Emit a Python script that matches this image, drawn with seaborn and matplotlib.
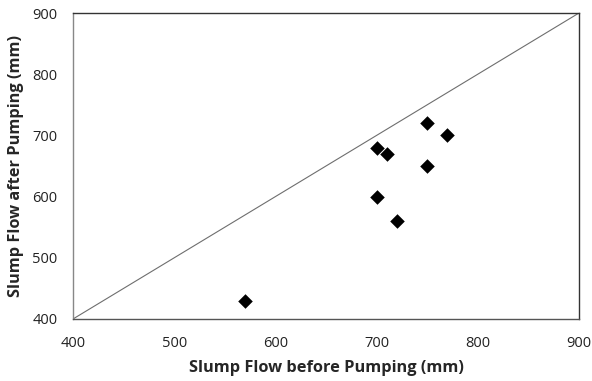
import matplotlib
matplotlib.use("Agg")
import matplotlib.pyplot as plt
import seaborn as sns
import pandas as pd

before = [570, 700, 710, 700, 720, 750, 750, 770]
after = [430, 680, 670, 600, 560, 720, 650, 700]
ticks = [400, 500, 600, 700, 800, 900]
line_ref = [400, 900]

sns.set_theme(style="white")
plt.rcParams['font.family'] = ['Open Sans', 'DejaVu Sans']

df = pd.DataFrame({"before": before, "after": after})

fig = plt.figure(figsize=(5.92, 3.81), dpi=100)
ax = fig.add_axes([73/592, 1-319/381, (579-73)/592, (319-13)/381])

ax.plot(line_ref, line_ref, color="#6e6e6e", lw=0.8, zorder=1)
sns.scatterplot(data=df, x="before", y="after", marker="D", s=55, color="black",
                edgecolor="black", linewidth=0, ax=ax, zorder=3)

ax.set_xlim(400, 900)
ax.set_ylim(400, 900)
ax.set_xticks(ticks)
ax.set_yticks(ticks)
ax.set_xticklabels([str(t) for t in ticks])
ax.set_yticklabels([str(t) for t in ticks])
ax.tick_params(axis="both", direction="in", length=3, width=0.8, color="#555555",
               labelsize=10.5, labelcolor="#222222")
ax.tick_params(axis="x", pad=12)
ax.tick_params(axis="y", pad=11)
ax.set_xlabel("Slump Flow before Pumping (mm)", fontsize=11.8, fontweight="bold", labelpad=7)
ax.set_ylabel("Slump Flow after Pumping (mm)", fontsize=11.8, fontweight="bold", labelpad=6)
for s in ax.spines.values():
    s.set_visible(True)
    s.set_linewidth(1.0)
    s.set_color("#333333")
ax.spines["left"].set_color("#888888")
ax.spines["bottom"].set_color("#555555")

fig.savefig("out.png", dpi=100)
